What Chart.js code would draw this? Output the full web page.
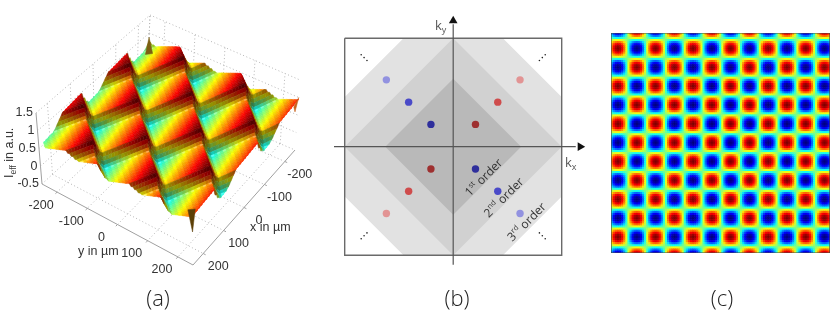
<!DOCTYPE html>
<html>
<head>
<meta charset="utf-8">
<title>Interference pattern</title>
<script src="https://cdn.jsdelivr.net/npm/chart.js@4"></script>
<style>
  html, body { margin: 0; padding: 0; background: #fff; }
  #page { position: relative; width: 830px; height: 317px; overflow: hidden; }
  canvas { position: absolute; }
  .lbl { position: absolute; white-space: nowrap; color: #333; font-family: "Liberation Sans", sans-serif; font-size: 12px; line-height: 1; }
  .cap { font-family: "Open Sans", sans-serif; font-weight: 300; font-size: 22px; color: #222; transform: translateX(-50%); }
  .k { font-family: "Open Sans", sans-serif; font-size: 13px; color: #555; }
  .k sub { font-size: 9px; vertical-align: -3px; line-height: 0; }
  #ieff { left: 3px; top: 178px; transform: rotate(-90deg); transform-origin: 0 0; font-size: 12.5px; }
  #ieff sub { font-size: 8.5px; vertical-align: -3px; line-height: 0; }
</style>
</head>
<body>
<div id="page">
  <canvas id="surfaceChart" width="312" height="285" style="left:0;top:0;filter:blur(0.4px)"></canvas>
  <canvas id="orderChart" width="260" height="270" style="left:330px;top:10px"></canvas>
  <canvas id="mapChart" width="219" height="220" style="left:611px;top:33px;filter:blur(0.4px)"></canvas>
  <div class="lbl" style="left:250px;top:221px;font-size:12.5px">x in µm</div>
  <div class="lbl" style="left:78px;top:245px;font-size:12.5px">y in µm</div>
  <div class="lbl" id="ieff">I<sub>eff</sub> in a.u.</div>
  <div class="lbl k" style="left:435px;top:19px">k<sub>y</sub></div>
  <div class="lbl k" style="left:565px;top:156px">k<sub>x</sub></div>
  <div class="lbl cap" style="left:158px;top:286px">(a)</div>
  <div class="lbl cap" style="left:457px;top:286px">(b)</div>
  <div class="lbl cap" style="left:722px;top:286px">(c)</div>
</div>

<script>
// panel (a): axis ticks and two height transects
const xTicks = [-200, -100, 0, 100, 200];
const yTicks = [-200, -100, 0, 100, 200];
const zTicks = [-0.5, 0, 0.5, 1, 1.5];
const zAcross = [0.50, 0.525, 0.55, 0.575, 0.60, 0.625, 0.65, 0.675, 0.70, 0.725, 0.75, 0.775, 0.80, 0.825, 0.85, 0.87, 0.70, 0.56];
const zAlong = [0.00, 0.015, 0.03, 0.045, 0.06, 0.075, 0.09, 0.105, 0.12, 0.135, 0.15, 0.165, 0.18, 0.195, 0.21, 0.15, 0.09, 0.03];
// thin spikes at three corners of the surface: x, y, z at the tip, z at the base
const spikeX = [-250, 250, -250];
const spikeY = [-250, 250, 250];
const spikeTip = [0.88, 0.43, 1.0];
const spikeBase = [0.48, 0.99, 0.68];
const spikeColors = ['#7d5f12', '#5c3f06', '#c8601a'];

// panel (b): grey zones and order spots in k space
const zone3 = [[-2.23, 4.87], [2.23, 4.87], [4.87, 2.23], [4.87, -2.23], [2.23, -4.87], [-2.23, -4.87], [-4.87, -2.23], [-4.87, 2.23]];
const zone2 = [[0, 4.87], [4.87, 0], [0, -4.87], [-4.87, 0]];
const zone1 = [[0, 3.05], [3.05, 0], [0, -3.05], [-3.05, 0]];
const orders = [1, 2, 3];
const blueSpots = ['#2f2f9c', '#4a4ac8', '#9292e0'];
const redSpots = ['#9e3030', '#cf4c4c', '#e29494'];
const orderLabels = [['1', 'st', 1.39, -1.40], ['2', 'nd', 2.29, -2.30], ['3', 'rd', 3.32, -3.40]];
const moreDots = [-0.13, 0, 0.13];

// panel (c): one quarter of the chequerboard, a single lobe sampled 9 x 9
const lobe = [
  [0.05, 0.12, 0.18, 0.21, 0.22, 0.21, 0.18, 0.12, 0.05],
  [0.12, 0.31, 0.45, 0.53, 0.56, 0.53, 0.45, 0.31, 0.12],
  [0.18, 0.45, 0.64, 0.76, 0.80, 0.76, 0.64, 0.45, 0.18],
  [0.21, 0.53, 0.76, 0.90, 0.95, 0.90, 0.76, 0.53, 0.21],
  [0.22, 0.56, 0.80, 0.95, 1.00, 0.95, 0.80, 0.56, 0.22],
  [0.21, 0.53, 0.76, 0.90, 0.95, 0.90, 0.76, 0.53, 0.21],
  [0.18, 0.45, 0.64, 0.76, 0.80, 0.76, 0.64, 0.45, 0.18],
  [0.12, 0.31, 0.45, 0.53, 0.56, 0.53, 0.45, 0.31, 0.12],
  [0.05, 0.12, 0.18, 0.21, 0.22, 0.21, 0.18, 0.12, 0.05]
];

const clamp01 = v => Math.max(0, Math.min(1, v));

function jet(t, shade, glint) {
  const s = shade === undefined ? 1 : shade, w = glint || 0;
  const ch = c => Math.round((clamp01(c) * s * (1 - w) + w) * 255);
  return 'rgb(' + ch(1.5 - Math.abs(4 * t - 3)) + ',' + ch(1.5 - Math.abs(4 * t - 2)) + ',' + ch(1.5 - Math.abs(4 * t - 1)) + ')';
}

// ---------- panel (a) ----------
// view of the box: floor and top corners as seen by the camera
const viewFloor = { left: [42, 184], bottom: [193, 265], right: [295, 150], back: [147, 87] };
const viewTop = { left: [36, 113], bottom: [192, 194], right: [300, 80], back: [150, 15] };

function project(x, y, z) {
  const u = (x + 250) / 500, v = (y + 250) / 500, h = (z + 0.5) / 2;
  const at = c => [0, 1].map(k =>
    c.back[k] * (1 - u) * (1 - v) + c.left[k] * u * (1 - v) + c.right[k] * (1 - u) * v + c.bottom[k] * u * v);
  const f = at(viewFloor), t = at(viewTop);
  return { x: f[0] + (t[0] - f[0]) * h, y: f[1] + (t[1] - f[1]) * h };
}

// the mesh runs along the two diagonals of the x-y square
const meshHalf = 45, meshUnit = 5.7;
const acrossPhase = 6, alongPhase = 6;
const colorLow = 0.15, colorHigh = 1.12;
const wrap18 = n => ((n % 18) + 18) % 18;
const height = (a, b) => zAcross[wrap18(a + acrossPhase)] + zAlong[wrap18(b + alongPhase)];
// the bands change colour a bit faster than they change height
const tint = (a, b) => zAcross[wrap18(a + acrossPhase)] + 1.4 * zAlong[wrap18(b + alongPhase)];
const limit = v => Math.max(-250, Math.min(250, v));

const surfaceSets = [];
spikeX.forEach((sx, k) => {
  const inX = sx > 0 ? -14 : 14, inY = spikeY[k] > 0 ? -14 : 14;
  surfaceSets.push({
    data: [project(sx, spikeY[k], spikeTip[k]), project(sx + inX, spikeY[k], spikeBase[k]), project(sx, spikeY[k] + inY, spikeBase[k]), project(sx, spikeY[k], spikeTip[k])],
    showLine: true, fill: 'shape', backgroundColor: spikeColors[k], borderColor: spikeColors[k], borderWidth: 0.5, pointRadius: 0
  });
});
// nearest quads first, Chart.js paints the first dataset on top
for (let b = meshHalf; b >= -meshHalf; b--) {
  for (let a = -42; a < meshHalf; a++) {
    const midX = (b - a) * meshUnit, midY = (b + a + 1) * meshUnit;
    if (Math.abs(midX) > 250 + meshUnit || Math.abs(midY) > 250 + meshUnit) continue;
    const corners = [[a, b], [a + 1, b], [a + 1, b + 1], [a, b + 1], [a, b]];
    const pts = corners.map(c => project(limit((c[1] - c[0]) * meshUnit), limit((c[1] + c[0]) * meshUnit), height(c[0], c[1])));
    const mean = (tint(a, b) + tint(a + 1, b) + tint(a + 1, b + 1) + tint(a, b + 1)) / 4;
    const drop = height(a, b) - height(a, b + 1);
    const side = height(a, b) - height(a + 1, b);
    const stripe = wrap18(a) % 2 === 0 ? 1 : 0.96;
    const shade = Math.max(0.45, (1 - 0.4 * clamp01(drop / 0.06)) * (1 - 0.42 * clamp01(side / 0.15))) * stripe;
    const glint = wrap18(b + alongPhase) === 0 && wrap18(a) % 2 === 0 ? 0.3 : 0;
    const col = jet(clamp01((mean - colorLow) / (colorHigh - colorLow)), shade, glint);
    surfaceSets.push({ data: pts, showLine: true, fill: 'shape', backgroundColor: col, borderColor: col, borderWidth: 0.5, pointRadius: 0 });
  }
}

function edge(a, b, color, dash, width) {
  return { data: [project(a[0], a[1], a[2]), project(b[0], b[1], b[2])], showLine: true, borderColor: color,
    borderWidth: width || 1, borderDash: dash, pointRadius: 0, fill: false };
}

const boxSets = [];
const dotted = [1, 2.5], gridGrey = '#b5b5b5', axisGrey = '#a0a0a0';
[-250].concat(xTicks).forEach(x => boxSets.push(edge([x, -250, -0.5], [x, -250, 1.5], gridGrey, dotted)));
[-250].concat(yTicks).forEach(y => boxSets.push(edge([-250, y, -0.5], [-250, y, 1.5], gridGrey, dotted)));
zTicks.forEach(z => {
  boxSets.push(edge([250, -250, z], [-250, -250, z], gridGrey, dotted));
  boxSets.push(edge([-250, -250, z], [-250, 250, z], gridGrey, dotted));
});
xTicks.forEach(x => {
  boxSets.push(edge([x, -250, -0.5], [x, 250, -0.5], gridGrey, dotted));
  boxSets.push(edge([x, 250, -0.5], [x, 258, -0.5], axisGrey, []));
});
yTicks.forEach(y => {
  boxSets.push(edge([-250, y, -0.5], [250, y, -0.5], gridGrey, dotted));
  boxSets.push(edge([250, y, -0.5], [258, y, -0.5], axisGrey, []));
});
boxSets.push(edge([250, -250, -0.5], [250, 250, -0.5], axisGrey, []));
boxSets.push(edge([250, 250, -0.5], [-250, 250, -0.5], axisGrey, []));
boxSets.push(edge([250, -250, -0.5], [250, -250, 1.5], axisGrey, []));

const axisText = {
  id: 'axisText',
  afterDraw(chart) {
    const { ctx, scales } = chart;
    const put = (p, dx, dy, text, align) => {
      ctx.textAlign = align;
      ctx.fillText(text, scales.x.getPixelForValue(p.x) + dx, scales.y.getPixelForValue(p.y) + dy);
    };
    ctx.save();
    ctx.font = '12.5px "Liberation Sans"';
    ctx.fillStyle = '#333';
    ctx.textBaseline = 'middle';
    xTicks.forEach(x => put(project(x, 250, -0.5), 15, 13, String(x), 'center'));
    yTicks.forEach(y => put(project(250, y, -0.5), -16, 13, String(y), 'center'));
    zTicks.forEach(z => put(project(250, -250, z), -3, 0, String(z), 'right'));
    ctx.restore();
  }
};

new Chart(document.getElementById('surfaceChart'), {
  type: 'scatter',
  data: { datasets: surfaceSets.concat(boxSets) },
  options: {
    responsive: false, animation: false, events: [],
    layout: { autoPadding: false },
    plugins: { legend: { display: false }, tooltip: { enabled: false } },
    scales: {
      x: { type: 'linear', min: 0, max: 312, display: false },
      y: { type: 'linear', min: 0, max: 285, reverse: true, display: false }
    }
  },
  plugins: [axisText]
});

// ---------- panel (b) ----------
const kUnit = 22.28;
const kPts = list => list.concat([list[0]]).map(p => ({ x: p[0], y: p[1] }));
const zoneSet = (list, col) => ({ data: kPts(list), showLine: true, fill: 'shape', backgroundColor: col, borderColor: col, borderWidth: 0, pointRadius: 0 });
const kLine = (a, b, col, w) => ({ data: [{ x: a[0], y: a[1] }, { x: b[0], y: b[1] }], showLine: true, borderColor: col, borderWidth: w, pointRadius: 0, fill: false });

const spotSets = [];
orders.forEach((n, idx) => {
  spotSets.push({ data: [{ x: -n, y: n }, { x: n, y: -n }], backgroundColor: blueSpots[idx], pointRadius: 3.7, borderWidth: 0 });
  spotSets.push({ data: [{ x: n, y: n }, { x: -n, y: -n }], backgroundColor: redSpots[idx], pointRadius: 3.7, borderWidth: 0 });
});
const dotData = [];
moreDots.forEach(d => {
  dotData.push({ x: -4 + d, y: 4 - d }, { x: 4 + d, y: 4 + d }, { x: -4 + d, y: -4 + d }, { x: 4 + d, y: -4 - d });
});

const orderText = {
  id: 'orderText',
  afterDraw(chart) {
    const { ctx, scales } = chart;
    ctx.save();
    ctx.fillStyle = '#333';
    ctx.textBaseline = 'middle';
    orderLabels.forEach(l => {
      ctx.save();
      ctx.translate(scales.x.getPixelForValue(l[2]), scales.y.getPixelForValue(l[3]));
      ctx.rotate(-Math.PI / 4);
      ctx.font = '12px "Open Sans"';
      const w1 = ctx.measureText(l[0]).width, w3 = ctx.measureText(' order').width;
      ctx.font = '7.5px "Open Sans"';
      const w2 = ctx.measureText(l[1]).width;
      let left = -(w1 + w2 + w3) / 2;
      ctx.font = '12px "Open Sans"';
      ctx.fillText(l[0], left, 0);
      ctx.fillText(' order', left + w1 + w2, 0);
      ctx.font = '7.5px "Open Sans"';
      ctx.fillText(l[1], left + w1, -4);
      ctx.restore();
    });
    ctx.restore();
  }
};

new Chart(document.getElementById('orderChart'), {
  type: 'scatter',
  data: {
    datasets: [
      { data: [{ x: 5.7, y: 0 }], pointStyle: 'triangle', rotation: 90, pointRadius: 5, backgroundColor: '#111', borderWidth: 0 },
      { data: [{ x: 0, y: 5.65 }], pointStyle: 'triangle', rotation: 0, pointRadius: 5, backgroundColor: '#111', borderWidth: 0 },
      kLine([-5.35, 0], [5.5, 0], '#555', 1.2),
      kLine([0, -5.3], [0, 5.5], '#555', 1.2),
      { data: kPts([[-4.87, 4.87], [4.87, 4.87], [4.87, -4.87], [-4.87, -4.87]]), showLine: true, borderColor: '#6a6a6a', borderWidth: 1.4, pointRadius: 0, fill: false },
      { data: dotData, backgroundColor: '#222', pointRadius: 0.8, borderWidth: 0 }
    ].concat(spotSets, [zoneSet(zone1, '#b9b9b9'), zoneSet(zone2, '#d1d1d1'), zoneSet(zone3, '#e2e2e2')])
  },
  options: {
    responsive: false, animation: false, events: [],
    layout: { autoPadding: false },
    plugins: { legend: { display: false }, tooltip: { enabled: false } },
    scales: {
      x: { type: 'linear', min: -123.2 / kUnit, max: 136.8 / kUnit, display: false },
      y: { type: 'linear', min: -133.3 / kUnit, max: 136.7 / kUnit, display: false }
    }
  },
  plugins: [orderText]
});

// ---------- panel (c) ----------
const cellCols = 105, cellRows = 105;
const cells = [], cellColors = [];
for (let r = 0; r < cellRows; r++) {
  for (let c = 0; c < cellCols; c++) {
    const col = c + 1, row = r + 6;
    const sign = (Math.floor(col / 9) + Math.floor(row / 9)) % 2 === 0 ? -1 : 1;
    cells.push({ x: c + 0.5, y: r + 0.5 });
    cellColors.push(jet(0.5 + 0.5 * sign * lobe[row % 9][col % 9]));
  }
}

new Chart(document.getElementById('mapChart'), {
  type: 'scatter',
  data: {
    datasets: [
      { data: kPts([[0, 0], [cellCols, 0], [cellCols, cellRows], [0, cellRows]]), showLine: true, borderColor: '#444', borderWidth: 1.2, pointRadius: 0, fill: false },
      { data: cells, pointStyle: 'rect', pointRadius: 1.9, pointBorderWidth: 0, pointBackgroundColor: cellColors }
    ]
  },
  options: {
    responsive: false, animation: false, events: [],
    layout: { autoPadding: false },
    plugins: { legend: { display: false }, tooltip: { enabled: false } },
    scales: {
      x: { type: 'linear', min: 0, max: cellCols, display: false },
      y: { type: 'linear', min: 0, max: cellRows, reverse: true, display: false }
    }
  }
});
</script>
</body>
</html>
